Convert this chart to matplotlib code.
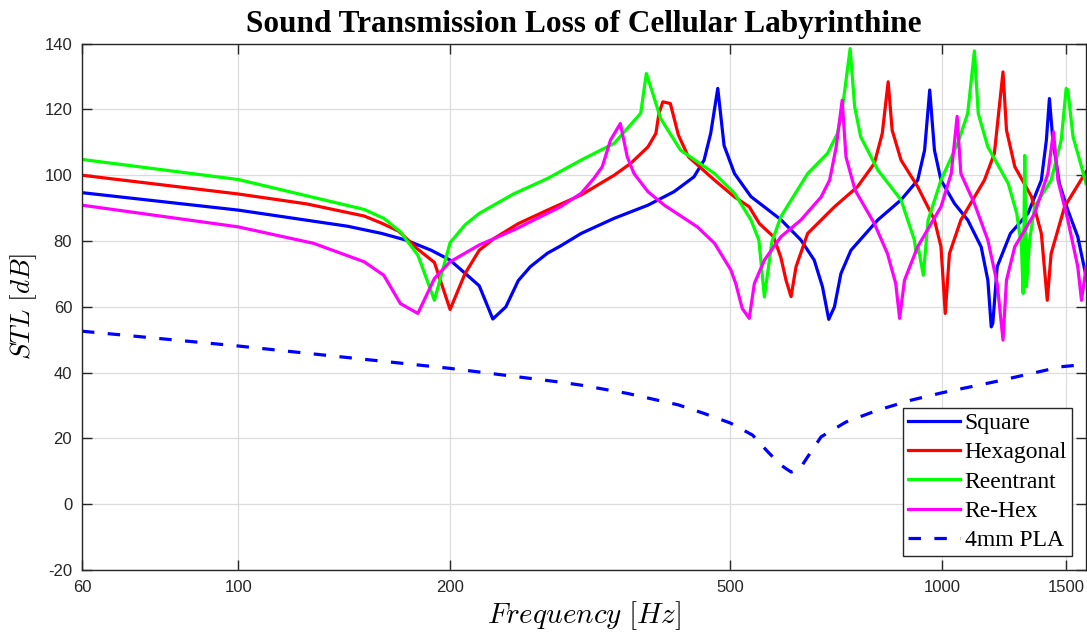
import numpy as np
import matplotlib
matplotlib.use("Agg")
import matplotlib.pyplot as plt

# ---- data (frequency [Hz], STL [dB]) ----
f_square = [60, 100, 143, 160, 173, 188, 200, 220, 230, 240, 250, 260, 275, 287, 307,
            342, 382, 416, 444, 459, 469, 480, 490, 507, 535, 590, 630, 658, 676, 690,
            703, 718, 742, 810, 874, 923, 944, 960, 975, 996, 1041, 1087, 1136, 1161,
            1174, 1180, 1197, 1250, 1324, 1383, 1406, 1420, 1436, 1467, 1508, 1558, 1600]
stl_square = [94.7, 89.4, 84.5, 82.3, 80.3, 77.2, 74.2, 66.4, 56.3, 60, 68, 72.2, 76.3, 78.5, 82.3,
              86.9, 90.9, 95, 99.5, 104.6, 112.7, 126.4, 109, 100.5, 93.5, 86.5, 80.3, 74.2, 66.1, 56.2,
              60, 70.1, 77.2, 86.4, 92.5, 98.5, 107.6, 125.9, 107.6, 98.5, 91.4, 86.4, 78.2, 68.1,
              53.9, 55, 72.2, 82.3, 88.4, 98.5, 110.7, 123.3, 110.7, 97.5, 89.4, 81.3, 69.5]

f_hex = [60, 100, 125, 151, 160, 169, 180, 190, 200, 210, 220, 231, 250, 275, 307,
         342, 361, 382, 392, 396, 401, 411, 422, 436, 475, 507, 532, 550, 576, 590,
         600, 610, 620, 644, 703, 758, 801, 822, 838, 849, 874, 923, 975, 996, 1010,
         1024, 1063, 1148, 1186, 1220, 1234, 1268, 1339, 1383, 1410, 1428, 1492, 1600]
stl_hex = [100, 94.3, 91.3, 87.6, 85.4, 83, 77.5, 73.5, 59.2, 70.1, 77.2, 80.8, 85.3, 89.4, 94,
           100, 103.6, 108.6, 112.7, 118.8, 122.3, 121.8, 112.2, 105.6, 98.5, 93.4, 90.4, 85.3, 81.3, 75,
           68.1, 63.1, 72.2, 82.3, 90.4, 96.5, 103.6, 112.7, 128.4, 113.7, 104.6, 96.5, 86.4, 78.3, 58,
           76.2, 86.4, 98.5, 106.6, 131.4, 113.7, 102.6, 93.5, 82.3, 62, 76.2, 90.4, 101]

f_reen = [60, 100, 151, 161, 170, 180, 190, 200, 210, 220, 246, 275, 307, 342, 373,
          380, 388, 398, 425, 475, 507, 535, 549, 559, 573, 590, 644, 687, 710, 722,
          740, 751, 766, 810, 874, 913, 918, 925, 940, 955, 996, 1052, 1087, 1111, 1125,
          1161, 1241, 1276, 1296, 1303, 1310, 1317, 1331, 1353, 1428, 1476, 1500, 1508, 1534,
          1577, 1600]
stl_reen = [104.8, 98.7, 89.6, 86.9, 82.8, 75.7, 62, 79.5, 84.9, 88.4, 94.3, 99, 104.6, 109.7, 118.8,
            130.9, 124.9, 117.3, 107.6, 100.5, 94.5, 86.4, 80.3, 63, 79.8, 87.4, 100.5, 106.6, 112.7, 120.8,
            138.5, 120.8, 111.7, 101.6, 92.5, 80.3, 76.5, 78, 69.6, 86.4, 98.5, 109.7, 118.8, 137.8, 118.8,
            108.6, 97.5, 88.4, 78.3, 64.1, 106, 66.1, 80.3, 90.4, 98.5, 110.7, 126.4, 125.9, 111.7,
            102.6, 97.5]

f_rehex = [60, 100, 128, 151, 161, 170, 180, 190, 200, 220, 246, 287, 307, 320, 329,
           338, 349, 357, 365, 382, 403, 449, 475, 501, 509, 520, 532, 541, 559, 590,
           630, 673, 692, 707, 721, 730, 752, 801, 836, 859, 870, 884, 923, 996, 1030,
           1050, 1063, 1111, 1161, 1197, 1220, 1234, 1268, 1353, 1413, 1439, 1460, 1508, 1558,
           1577, 1592, 1600]
stl_rehex = [90.9, 84.3, 79.3, 73.7, 69.6, 61, 58, 68.6, 73.7, 78.8, 83.3, 90.4, 94.5, 99, 102.6,
             110.7, 115.7, 105.6, 100.5, 95, 90.9, 84.3, 79.3, 71.2, 67.1, 59.5, 56.5, 67.1, 74.2, 81.3,
             86.4, 93.4, 98.5, 108.6, 122.8, 105.6, 95.5, 85.3, 76.2, 67.1, 56.5, 68.1, 78.3, 90.4, 100.5,
             117.9, 100.5, 91.4, 80.3, 67.1, 49.9, 68.1, 78.3, 88.4, 100.5, 113.2, 98.5, 86.4, 72.2,
             62, 68.1, 72]

f_pla = [60, 100, 200, 287, 307, 357, 422, 459, 500, 538, 565, 590, 610, 626,
         644, 673, 730, 810, 902, 1000, 1186, 1476, 1600]
stl_pla = [52.6, 48.1, 41.3, 37.1, 36.2, 33.7, 30.2, 27.6, 24.7, 21, 16, 11.9, 9.8, 10.4,
           14.4, 20.5, 25, 28.6, 31.6, 33.9, 37.2, 41.8, 42.5]

x_ticks = [60, 100, 200, 500, 1000, 1500]
y_ticks = list(range(-20, 141, 20))

plt.rcParams['font.family'] = ['Liberation Sans', 'DejaVu Sans']
plt.rcParams['mathtext.fontset'] = 'cm'
plt.rcParams['axes.unicode_minus'] = False

fig = plt.figure(figsize=(10.87, 6.32), dpi=100)
ax = fig.add_axes([0.0754, 0.098, 0.9236, 0.833])

lw = 2.3
ax.plot(f_square, stl_square, color=(0, 0, 1), lw=lw, label='Square')
ax.plot(f_hex, stl_hex, color=(1, 0, 0), lw=lw, label='Hexagonal')
ax.plot(f_reen, stl_reen, color=(0, 1, 0), lw=lw, label='Reentrant')
ax.plot(f_rehex, stl_rehex, color=(1, 0, 1), lw=lw, label='Re-Hex')
ax.plot(f_pla, stl_pla, color=(0, 0, 1), lw=lw, ls=(0, (3.9, 4.2)), label='4mm PLA')

ax.set_xscale('log')
ax.set_xlim(60, 1600)
ax.set_ylim(-20, 140)
ax.set_xticks(x_ticks)
ax.set_xticklabels([str(t) for t in x_ticks])
ax.xaxis.set_minor_locator(matplotlib.ticker.NullLocator())
ax.set_yticks(y_ticks)

ax.grid(True, color='#dcdcdc', lw=0.9)
ax.set_axisbelow(True)
ax.tick_params(direction='in', length=7, width=1, color='#262626',
               top=True, right=True, labelsize=12, pad=7, labelcolor='#262626')
for s in ax.spines.values():
    s.set_color('#262626')
    s.set_linewidth(1)

ax.set_title('Sound Transmission Loss of Cellular Labyrinthine',
             fontfamily='Liberation Serif', fontweight='bold', fontsize=22.5, pad=8)
ax.set_xlabel(r'$Frequency\ [Hz]$', fontsize=21, labelpad=3)
ax.set_ylabel(r'$STL\ [dB]$', fontsize=19.5, labelpad=4)

leg = ax.legend(loc='lower right', prop={'family': 'Liberation Serif', 'size': 17},
                fancybox=False, framealpha=1, edgecolor='#262626',
                handlelength=2.2, labelspacing=0.33, borderpad=0.2,
                handletextpad=0.2, borderaxespad=0.6)
leg.get_frame().set_linewidth(1)

fig.savefig('out.png', dpi=100)
